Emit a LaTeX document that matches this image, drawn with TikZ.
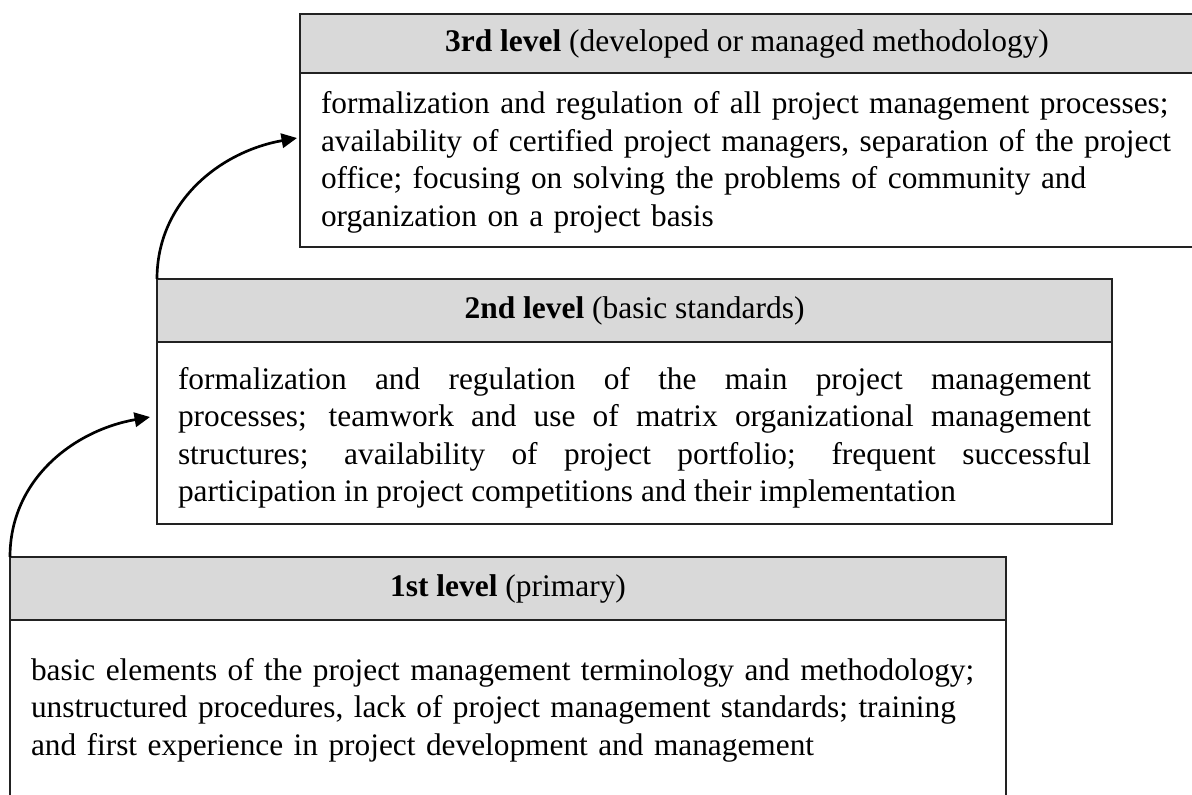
\documentclass[tikz,border=0pt]{standalone}
\usepackage{fontspec}
\setmainfont{Liberation Serif}
\usetikzlibrary{arrows.meta}
\definecolor{hdr}{HTML}{D9D9D9}
\definecolor{ln}{HTML}{222222}
\tolerance=10000
\hyphenpenalty=10000
\begin{document}
\begin{tikzpicture}[x=0.375pt,y=-0.375pt,
  every node/.style={outer sep=0pt},
  hdrbox/.style={draw=ln, line width=0.6pt, fill=hdr, anchor=north west, inner sep=0pt,
    align=center, font=\fontsize{11.8pt}{14.06pt}\selectfont},
  bodybox/.style={draw=ln, line width=0.6pt, fill=white, anchor=north west,
    inner xsep=7.875pt, inner ysep=0pt,
    font=\fontsize{11.75pt}{14.06pt}\selectfont},
  arr/.style={line width=1pt, draw=black, -{Triangle[length=5.8pt,width=5.4pt]}}]
\useasboundingbox (0,0) rectangle (1192,794);

% level 3
\node[hdrbox, minimum width=335.25pt, minimum height=22.125pt] (h3) at (300,14)
  {\textbf{3rd level} (developed or managed methodology)};
\node[bodybox, minimum height=65.25pt, text width=319.5pt, align=left] (b3) at (h3.south west)
  {\rule{0pt}{9.9pt}\mbox{formalization and regulation of all project management processes;}\\
   \mbox{availability of certified project managers, separation of the project}\\
   \mbox{office; focusing on solving the problems of community and}\\
   \mbox{organization on a project basis}};

% level 2
\node[hdrbox, minimum width=358.125pt, minimum height=23.625pt] (h2) at (157,279)
  {\textbf{2nd level} (basic standards)};
\node[bodybox, minimum height=68.25pt, text width=342.375pt, align=justify] (b2) at (h2.south west)
  {\rule{0pt}{11.75pt}formalization and regulation of the main project management\linebreak
   processes; teamwork and use of matrix organizational management\linebreak
   structures; availability of project portfolio; frequent successful\linebreak
   participation in project competitions and their implementation};

% level 1
\node[hdrbox, minimum width=373.5pt, minimum height=23.625pt] (h1) at (10,557)
  {\textbf{1st level} (primary)};
\node[bodybox, minimum height=67.5pt, text width=357.75pt, align=left] (b1) at (h1.south west)
  {\mbox{basic elements of the project management terminology and methodology;}\\
   \mbox{unstructured procedures, lack of project management standards; training}\\
   \mbox{and first experience in project development and management}\\[3.75pt]};

% arrows
\draw[arr] (h2.north west) to[out=90,in=190] ([xshift=-1.125pt,yshift=8.25pt]b3.west);
\draw[arr] (h1.north west) to[out=90,in=190] ([xshift=-2.625pt,yshift=6pt]b2.west);
\end{tikzpicture}
\end{document}
